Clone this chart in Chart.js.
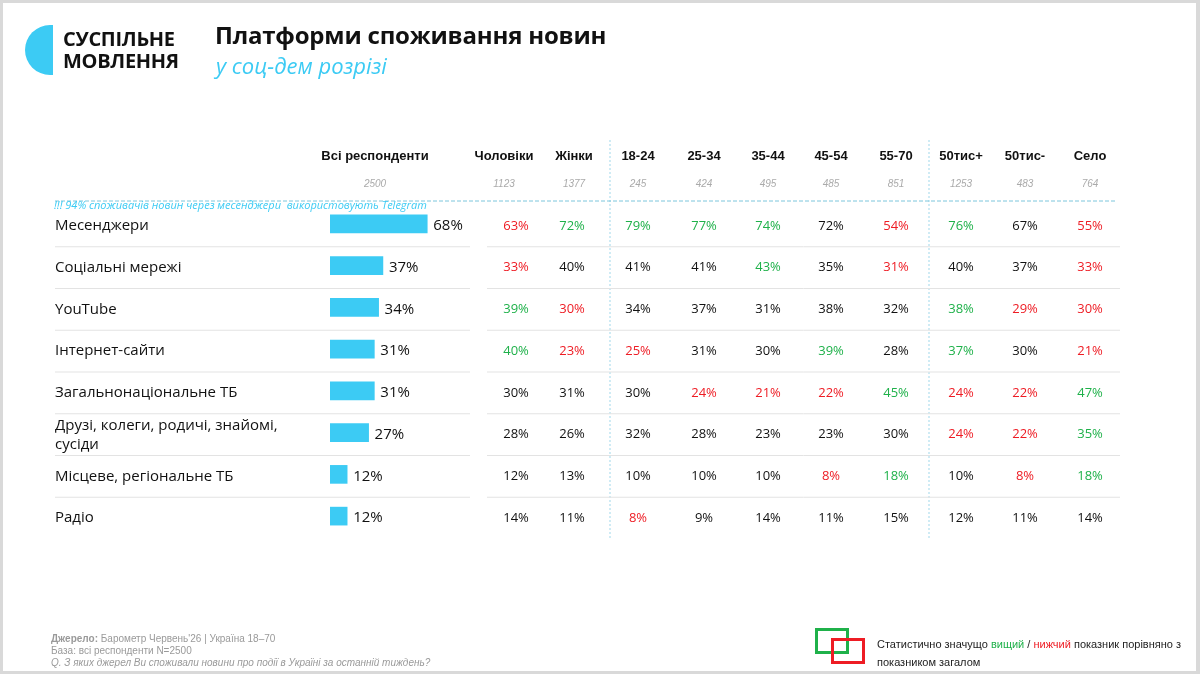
<!DOCTYPE html>
<html>
<head>
<meta charset="utf-8">
<script src="https://cdn.jsdelivr.net/npm/chart.js@4"></script>
<style>
  body { margin:0; background:#fff; }
  #wrap { position:relative; width:1200px; height:674px; box-sizing:border-box; border:3px solid #d9d9d9; border-right-width:4px; overflow:hidden; font-family:"Open Sans", sans-serif; }
  #c { position:absolute; left:-3px; top:-3px; }
  .logo { position:absolute; left:22px; top:22px; width:28px; height:50px; border-radius:25px 0 0 25px; background:#3ccbf4; }
  .brand { position:absolute; left:60px; top:25px; font:bold 20px/22px "Open Sans", sans-serif; color:#111; letter-spacing:-0.3px; }
  .title { position:absolute; left:212px; top:15px; font:bold 24px "Open Sans", sans-serif; color:#111; letter-spacing:-0.2px; }
  .sub { position:absolute; left:213px; top:47px; font:italic 22px "Open Sans", sans-serif; color:#3ccbf4; }
  .foot { position:absolute; left:48px; top:630px; font:10px/12px "Liberation Sans Narrow", "Liberation Sans", sans-serif; color:#9a9a9a; }
  .leg { position:absolute; left:874px; top:632px; font:11px/18px "Liberation Sans Narrow", "Liberation Sans", sans-serif; color:#222; }
  .b1 { position:absolute; left:812px; top:625px; width:28px; height:20px; border:3px solid #1fb14a; }
  .b2 { position:absolute; left:828px; top:635px; width:28px; height:20px; border:3px solid #ee1c24; }
</style>
</head>
<body>
<div id="wrap">
  <canvas id="c" width="1200" height="674"></canvas>
  <div class="logo"></div>
  <div class="brand">СУСПІЛЬНЕ<br>МОВЛЕННЯ</div>
  <div class="title">Платформи споживання новин</div>
  <div class="sub">у соц-дем розрізі</div>
  <div class="foot"><b>Джерело:</b> Барометр Червень'26 | Україна 18–70<br>База: всі респонденти N=2500<br><i>Q. З яких джерел Ви споживали новини про події в Україні за останній тиждень?</i></div>
  <div class="b1"></div><div class="b2"></div>
  <div class="leg">Статистично значущо <span style="color:#1fb14a">вищий</span> / <span style="color:#ee1c24">нижчий</span> показник порівняно з<br>показником загалом</div>
</div>
<script>
var categories = ['Месенджери', 'Соціальні мережі', 'YouTube', 'Інтернет-сайти', 'Загальнонаціональне ТБ', ['Друзі, колеги, родичі, знайомі,', 'сусіди'], 'Місцеве, регіональне ТБ', 'Радіо'];
var total = [68, 37, 34, 31, 31, 27, 12, 12];
var groups = ['Чоловіки', 'Жінки', '18-24', '25-34', '35-44', '45-54', '55-70', '50тис+', '50тис-', 'Село'];
var groupN = [1123, 1377, 245, 424, 495, 485, 851, 1253, 483, 764];
var values = [
  [63, 33, 39, 40, 30, 28, 12, 14],
  [72, 40, 30, 23, 31, 26, 13, 11],
  [79, 41, 34, 25, 30, 32, 10, 8],
  [77, 41, 37, 31, 24, 28, 10, 9],
  [74, 43, 31, 30, 21, 23, 10, 14],
  [72, 35, 38, 39, 22, 23, 8, 11],
  [54, 31, 32, 28, 45, 30, 18, 15],
  [76, 40, 38, 37, 24, 24, 10, 12],
  [67, 37, 29, 30, 22, 22, 8, 11],
  [55, 33, 30, 21, 47, 35, 18, 14]
];
// g = significantly higher, r = significantly lower
var signif = [
  ['r', 'r', 'g', 'g', '', '', '', ''],
  ['g', '', 'r', 'r', '', '', '', ''],
  ['g', '', '', 'r', '', '', '', 'r'],
  ['g', '', '', '', 'r', '', '', ''],
  ['g', 'g', '', '', 'r', '', '', ''],
  ['', '', '', 'g', 'r', '', 'r', ''],
  ['r', 'r', '', '', 'g', '', 'g', ''],
  ['g', '', 'g', 'g', 'r', 'r', '', ''],
  ['', '', 'r', '', 'r', 'r', 'r', ''],
  ['r', 'r', 'r', 'r', 'g', 'g', 'g', '']
];
var colX = [504, 574, 638, 704, 768, 831, 896, 961, 1025, 1090];

var tablePlugin = {
  id: 'table',
  afterDraw: function(chart) {
    var ctx = chart.ctx, y = chart.scales.y, x = chart.scales.x;
    var step = y.getPixelForValue(1) - y.getPixelForValue(0);
    ctx.save();
    ctx.textAlign = 'center'; ctx.textBaseline = 'middle';
    ctx.fillStyle = '#111'; ctx.font = 'bold 13px "Liberation Sans Narrow", "Liberation Sans", sans-serif';
    ctx.fillText('Всі респонденти', 375, 156);
    groups.forEach(function(g, j) { ctx.fillText(g, colX[j], 156); });
    ctx.fillStyle = '#aaa'; ctx.font = 'italic 10px "Liberation Sans", sans-serif';
    ctx.fillText('2500', 375, 184);
    groupN.forEach(function(n, j) { ctx.fillText(n, colX[j], 184); });
    ctx.strokeStyle = '#9fd7ea'; ctx.setLineDash([2, 2]); ctx.lineWidth = 1;
    [610, 929].forEach(function(vx) { ctx.beginPath(); ctx.moveTo(vx, 140); ctx.lineTo(vx, 540); ctx.stroke(); });
    ctx.strokeStyle = '#7cc6dc'; ctx.setLineDash([4, 2]);
    ctx.beginPath(); ctx.moveTo(55, 201); ctx.lineTo(1115, 201); ctx.stroke();
    ctx.setLineDash([]);
    ctx.fillStyle = '#3ccbf4'; ctx.textAlign = 'left';
    ctx.font = 'italic 11px "Open Sans", sans-serif';
    ctx.fillText('!!! 94% споживачів новин через месенджери  використовують Telegram', 54, 206);
    categories.forEach(function(cat, i) {
      var cy = y.getPixelForValue(i) + 2;
      if (i < categories.length - 1) {
        ctx.strokeStyle = '#e3e3e3'; ctx.lineWidth = 1;
        ctx.beginPath(); ctx.moveTo(55, cy + step / 2); ctx.lineTo(470, cy + step / 2);
        ctx.moveTo(487, cy + step / 2); ctx.lineTo(1120, cy + step / 2); ctx.stroke();
      }
      ctx.fillStyle = '#111'; ctx.textAlign = 'left';
      ctx.font = '15px "Open Sans", sans-serif';
      if (Array.isArray(cat)) {
        ctx.fillText(cat[0], 55, cy - 9); ctx.fillText(cat[1], 55, cy + 10);
      } else ctx.fillText(cat, 55, cy);
      ctx.fillText(total[i] + '%', x.getPixelForValue(total[i]) + 6, cy);
      ctx.textAlign = 'center'; ctx.font = '13px "Open Sans", sans-serif';
      groups.forEach(function(g, j) {
        var s = signif[j][i];
        ctx.fillStyle = s === 'g' ? '#1fb14a' : s === 'r' ? '#ee1c24' : '#111';
        ctx.fillText(values[j][i] + '%', colX[j] === 504 ? 516 : colX[j] === 574 ? 572 : colX[j], cy);
      });
    });
    ctx.restore();
  }
};

new Chart(document.getElementById('c'), {
  type: 'bar',
  data: {
    labels: categories,
    datasets: [{ data: total, backgroundColor: '#3ccbf4', barThickness: 18 }]
  },
  options: {
    indexAxis: 'y',
    responsive: false,
    animation: false,
    layout: { padding: { left: 330, right: 727, top: 203, bottom: 137 } },
    scales: {
      x: { display: false, min: 0, max: 100 },
      y: { display: false }
    },
    plugins: { legend: { display: false }, tooltip: { enabled: false } }
  },
  plugins: [tablePlugin]
});
</script>
</body>
</html>
